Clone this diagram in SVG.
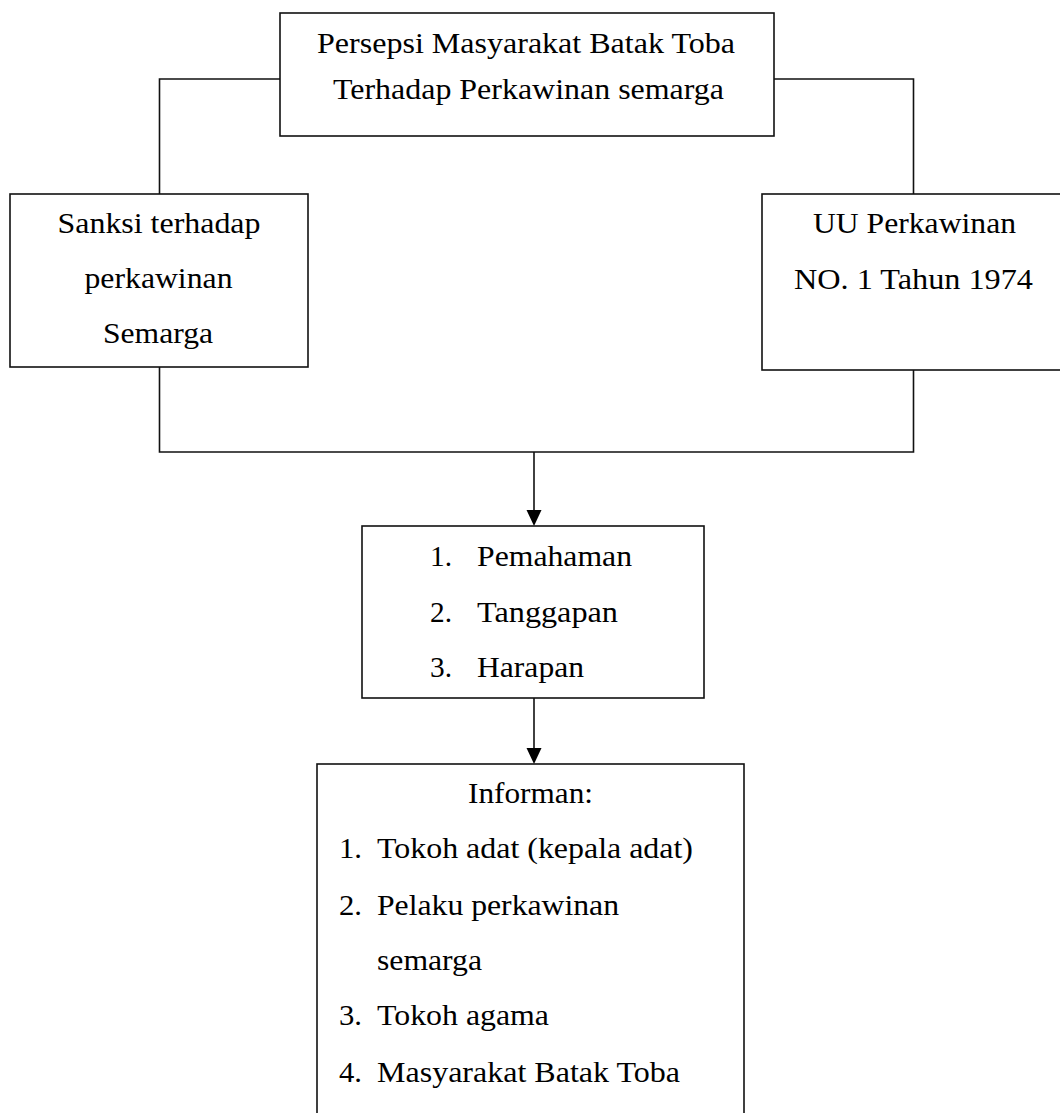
<svg xmlns="http://www.w3.org/2000/svg" width="1060" height="1113" viewBox="0 0 1060 1113">
  <style>
    .box { fill: #fff; stroke: #111; stroke-width: 1.6; }
    .line { fill: none; stroke: #111; stroke-width: 1.6; }
    text { font-family: "Liberation Serif", "Times New Roman", serif; font-size: 30px; fill: #000; }
    .c { text-anchor: middle; }
  </style>
  <rect width="1060" height="1113" fill="#fff"/>

  <g id="connectors">
    <polyline class="line" points="280,79 159.5,79 159.5,194"/>
    <polyline class="line" points="774,79 913.5,79 913.5,194"/>
    <polyline class="line" points="159.5,367 159.5,452 913.5,452 913.5,370"/>
    <line class="line" x1="534" y1="452" x2="534" y2="510"/>
    <path d="M526.5,510 L541.5,510 L534,526 Z" fill="#000"/>
    <line class="line" x1="534" y1="698" x2="534" y2="748"/>
    <path d="M526.5,748 L541.5,748 L534,764 Z" fill="#000"/>
  </g>

  <g id="node-top">
    <rect class="box" x="280" y="13" width="494" height="123"/>
    <text class="c" x="526" y="53" textLength="418" lengthAdjust="spacingAndGlyphs">Persepsi Masyarakat Batak Toba</text>
    <text class="c" x="528.5" y="99" textLength="391" lengthAdjust="spacingAndGlyphs">Terhadap Perkawinan semarga</text>
  </g>

  <g id="node-left">
    <rect class="box" x="10" y="194" width="298" height="173"/>
    <text class="c" x="159" y="233" textLength="203" lengthAdjust="spacingAndGlyphs">Sanksi terhadap</text>
    <text class="c" x="158.5" y="288" textLength="148" lengthAdjust="spacingAndGlyphs">perkawinan</text>
    <text class="c" x="158" y="343" textLength="110" lengthAdjust="spacingAndGlyphs">Semarga</text>
  </g>

  <g id="node-right">
    <rect class="box" x="762" y="194" width="330" height="176"/>
    <text class="c" x="914.5" y="233" textLength="203" lengthAdjust="spacingAndGlyphs">UU Perkawinan</text>
    <text class="c" x="913.5" y="289" textLength="239" lengthAdjust="spacingAndGlyphs">NO. 1 Tahun 1974</text>
  </g>

  <g id="node-middle">
    <rect class="box" x="362" y="526" width="342" height="172"/>
    <text x="430" y="566" textLength="22" lengthAdjust="spacingAndGlyphs">1.</text>
    <text x="477" y="566" textLength="155" lengthAdjust="spacingAndGlyphs">Pemahaman</text>
    <text x="430" y="622" textLength="22" lengthAdjust="spacingAndGlyphs">2.</text>
    <text x="477" y="622" textLength="141" lengthAdjust="spacingAndGlyphs">Tanggapan</text>
    <text x="430" y="677" textLength="22" lengthAdjust="spacingAndGlyphs">3.</text>
    <text x="477" y="677" textLength="107" lengthAdjust="spacingAndGlyphs">Harapan</text>
  </g>

  <g id="node-bottom">
    <rect class="box" x="317" y="764" width="427" height="400"/>
    <text class="c" x="530.5" y="803" textLength="125" lengthAdjust="spacingAndGlyphs">Informan:</text>
    <text x="339" y="858" textLength="23" lengthAdjust="spacingAndGlyphs">1.</text>
    <text x="377" y="858" textLength="316" lengthAdjust="spacingAndGlyphs">Tokoh adat (kepala adat)</text>
    <text x="339" y="915" textLength="23" lengthAdjust="spacingAndGlyphs">2.</text>
    <text x="377" y="915" textLength="242" lengthAdjust="spacingAndGlyphs">Pelaku perkawinan</text>
    <text x="377" y="970" textLength="105" lengthAdjust="spacingAndGlyphs">semarga</text>
    <text x="339" y="1025" textLength="23" lengthAdjust="spacingAndGlyphs">3.</text>
    <text x="377" y="1025" textLength="172" lengthAdjust="spacingAndGlyphs">Tokoh agama</text>
    <text x="339" y="1082" textLength="23" lengthAdjust="spacingAndGlyphs">4.</text>
    <text x="377" y="1082" textLength="303" lengthAdjust="spacingAndGlyphs">Masyarakat Batak Toba</text>
  </g>
</svg>
